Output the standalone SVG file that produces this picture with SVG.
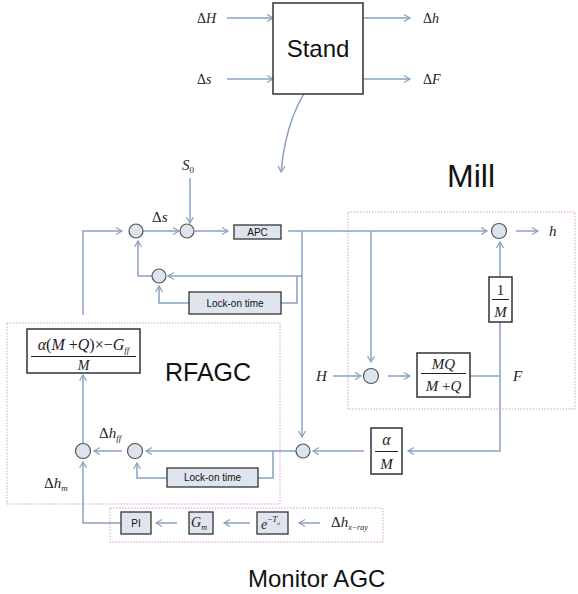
<svg xmlns="http://www.w3.org/2000/svg" width="578" height="594" viewBox="0 0 578 594" font-size="14">
<defs>
<marker id="arr" markerUnits="userSpaceOnUse" markerWidth="10" markerHeight="10" refX="7" refY="4" orient="auto">
<path d="M1,0.5 L7,4 L1,7.5" fill="none" stroke="#8aa0c4" stroke-width="1.2"/>
</marker>
<style>
.c{fill:none;stroke:#8aa0c4;stroke-width:1.5}
.a{marker-end:url(#arr)}
.sum{fill:#dde4ee;stroke:#555;stroke-width:1.2}
.box{fill:#fff;stroke:#333;stroke-width:1.5}
.gb{fill:#dfe5ee;stroke:#333;stroke-width:1.3}
.dot{fill:none;stroke:#d79ad7;stroke-width:1;stroke-dasharray:1.5 1.5}
.m{font-family:"Liberation Serif",serif;fill:#222}
.i{font-style:italic}
.s{font-family:"Liberation Sans",Arial,sans-serif;fill:#111}
.fl{stroke:#222;stroke-width:1}
</style>
</defs>
<rect width="578" height="594" fill="#fff"/>

<g id="regions">
<rect class="dot" x="348" y="212" width="227" height="197"/>
<rect class="dot" x="7" y="323" width="273" height="181"/>
<rect class="dot" x="110" y="508" width="273" height="34"/>
<text class="s" x="447" y="187" font-size="32">Mill</text>
<text class="s" x="165" y="381" font-size="25">RFAGC</text>
<text class="s" x="248" y="587" font-size="24">Monitor AGC</text>
</g>

<g id="connectors">
<path class="c a" d="M227,18 H273"/>
<path class="c a" d="M227,79 H273"/>
<path class="c a" d="M363,18 H410"/>
<path class="c a" d="M363,79 H410"/>
<path class="c a" d="M318,75 Q287,108 281,172"/>
<path class="c a" d="M190,178 V223"/>
<path class="c a" d="M143,231 H179"/>
<path class="c a" d="M195,231 H228"/>
<path class="c a" d="M288,231 H487"/>
<path class="c a" d="M516,231 H538"/>
<path class="c a" d="M302,231 V437"/>
<path class="c a" d="M302,276 H168"/>
<path class="c" d="M297,276 V303 H281"/>
<path class="c a" d="M189,303 H159 V286"/>
<path class="c a" d="M152,276 H138 V241"/>
<path class="c a" d="M83,315 V231 H122"/>
<path class="c a" d="M371,231 V362"/>
<path class="c a" d="M333,376 H361"/>
<path class="c a" d="M388,376 H410"/>
<path class="c" d="M470,376 H500"/>
<path class="c a" d="M500,277 V242"/>
<path class="c a" d="M500,322 V451 H408"/>
<path class="c a" d="M364,451 H313"/>
<path class="c a" d="M296,451 H146"/>
<path class="c" d="M273,451 V478 H258"/>
<path class="c a" d="M167,478 H137 V463"/>
<path class="c a" d="M122,451 H94"/>
<path class="c a" d="M83,443 V375"/>
<path class="c a" d="M121,523 H83 V462"/>
<path class="c a" d="M177,523 H156"/>
<path class="c a" d="M250,523 H224"/>
<path class="c a" d="M320,523 H299"/>
</g>

<g id="stand">
<rect class="box" x="273" y="3" width="90" height="91"/>
<text class="s" x="318" y="57" font-size="24" text-anchor="middle">Stand</text>
</g>
<g id="labels-top">
<text class="m" x="197" y="23">Δ<tspan class="i">H</tspan></text>
<text class="m" x="197" y="84">Δ<tspan class="i">s</tspan></text>
<text class="m" x="423" y="23">Δ<tspan class="i">h</tspan></text>
<text class="m" x="423" y="84">Δ<tspan class="i">F</tspan></text>
</g>

<g id="s0"><text class="m" x="182" y="170" font-size="15"><tspan class="i">S</tspan><tspan font-size="9" dy="3">0</tspan></text></g>
<g id="sum1"><circle class="sum" cx="136" cy="231" r="7"/></g>
<g id="sum2"><circle class="sum" cx="187" cy="231" r="7"/><text class="m" x="152" y="222" font-size="15">Δ<tspan class="i">s</tspan></text></g>
<g id="apc"><rect class="gb" x="234" y="225" width="47" height="14"/><text class="s" x="257.5" y="235.5" font-size="10" text-anchor="middle">APC</text></g>
<g id="sum3"><circle class="sum" cx="159" cy="276" r="7"/></g>
<g id="lock1"><rect class="gb" x="189" y="292" width="92" height="22"/><text class="s" x="235" y="306.5" font-size="10" text-anchor="middle">Lock-on time</text></g>

<g id="sum-h"><circle class="sum" cx="499" cy="231" r="7.5"/><text class="m" x="549" y="236" font-size="15"><tspan class="i">h</tspan></text></g>
<g id="inv-m">
<rect class="box" x="489" y="277" width="23" height="45"/>
<text class="m" x="500.5" y="295" font-size="15" text-anchor="middle">1</text>
<line class="fl" x1="492" y1="299.5" x2="509" y2="299.5"/>
<text class="m i" x="500.5" y="317" font-size="15" text-anchor="middle">M</text>
</g>
<g id="sum-H"><circle class="sum" cx="371" cy="376" r="7.5"/><text class="m" x="316" y="381" font-size="15"><tspan class="i">H</tspan></text></g>
<g id="mq">
<rect class="box" x="417" y="353" width="53" height="44"/>
<text class="m i" x="443.5" y="369" font-size="15" text-anchor="middle">MQ</text>
<line class="fl" x1="421" y1="373.5" x2="466" y2="373.5"/>
<text class="m" x="443.5" y="391" font-size="15" text-anchor="middle"><tspan class="i">M</tspan> +<tspan class="i">Q</tspan></text>
<text class="m" x="513" y="381" font-size="15"><tspan class="i">F</tspan></text>
</g>

<g id="alpha-m">
<rect class="box" x="371" y="428" width="31" height="46"/>
<text class="m i" x="386.5" y="445" font-size="16" text-anchor="middle">α</text>
<line class="fl" x1="375" y1="451.5" x2="398" y2="451.5"/>
<text class="m i" x="386.5" y="469" font-size="15" text-anchor="middle">M</text>
</g>
<g id="sum-mid"><circle class="sum" cx="303" cy="451" r="7"/></g>
<g id="sum-ff"><circle class="sum" cx="135" cy="451" r="7.5"/><text class="m" x="99" y="438" font-size="15">Δ<tspan class="i">h</tspan><tspan class="i" font-size="9" dy="3">ff</tspan></text></g>
<g id="sum-r"><circle class="sum" cx="83" cy="451" r="7.5"/><text class="m" x="44" y="488" font-size="15">Δ<tspan class="i">h</tspan><tspan class="i" font-size="9" dy="3">m</tspan></text></g>
<g id="lock2"><rect class="gb" x="167" y="468" width="91" height="19"/><text class="s" x="212.5" y="481" font-size="10" text-anchor="middle">Lock-on time</text></g>
<g id="rf-formula">
<rect class="box" x="27" y="329" width="113" height="44"/>
<text class="m" x="83.5" y="350" font-size="16" text-anchor="middle"><tspan class="i">α</tspan>(<tspan class="i">M</tspan> +<tspan class="i">Q</tspan>)×−<tspan class="i">G</tspan><tspan class="i" font-size="9" dy="3">ff</tspan></text>
<line class="fl" x1="31" y1="356.5" x2="136" y2="356.5"/>
<text class="m i" x="83.5" y="370" font-size="14" text-anchor="middle">M</text>
</g>

<g id="pi"><rect class="gb" x="121" y="512" width="30" height="22"/><text class="s" x="136" y="527" font-size="10" text-anchor="middle">PI</text></g>
<g id="gm"><rect class="gb" x="189" y="512" width="24" height="22"/><text class="m" x="199" y="527" font-size="14" text-anchor="middle"><tspan class="i">G</tspan><tspan class="i" font-size="8" dy="3">m</tspan></text></g>
<g id="delay"><rect class="gb" x="257" y="512" width="31" height="22"/><text class="m" x="261" y="529"><tspan class="i">e</tspan><tspan font-size="9" dy="-7">−</tspan><tspan class="i" font-size="9">T</tspan><tspan class="i" font-size="5" dy="3">d</tspan></text></g>
<g id="xray"><text class="m" x="331" y="527" font-size="15">Δ<tspan class="i">h</tspan><tspan class="i" font-size="8" dy="3">x−ray</tspan></text></g>
</svg>
